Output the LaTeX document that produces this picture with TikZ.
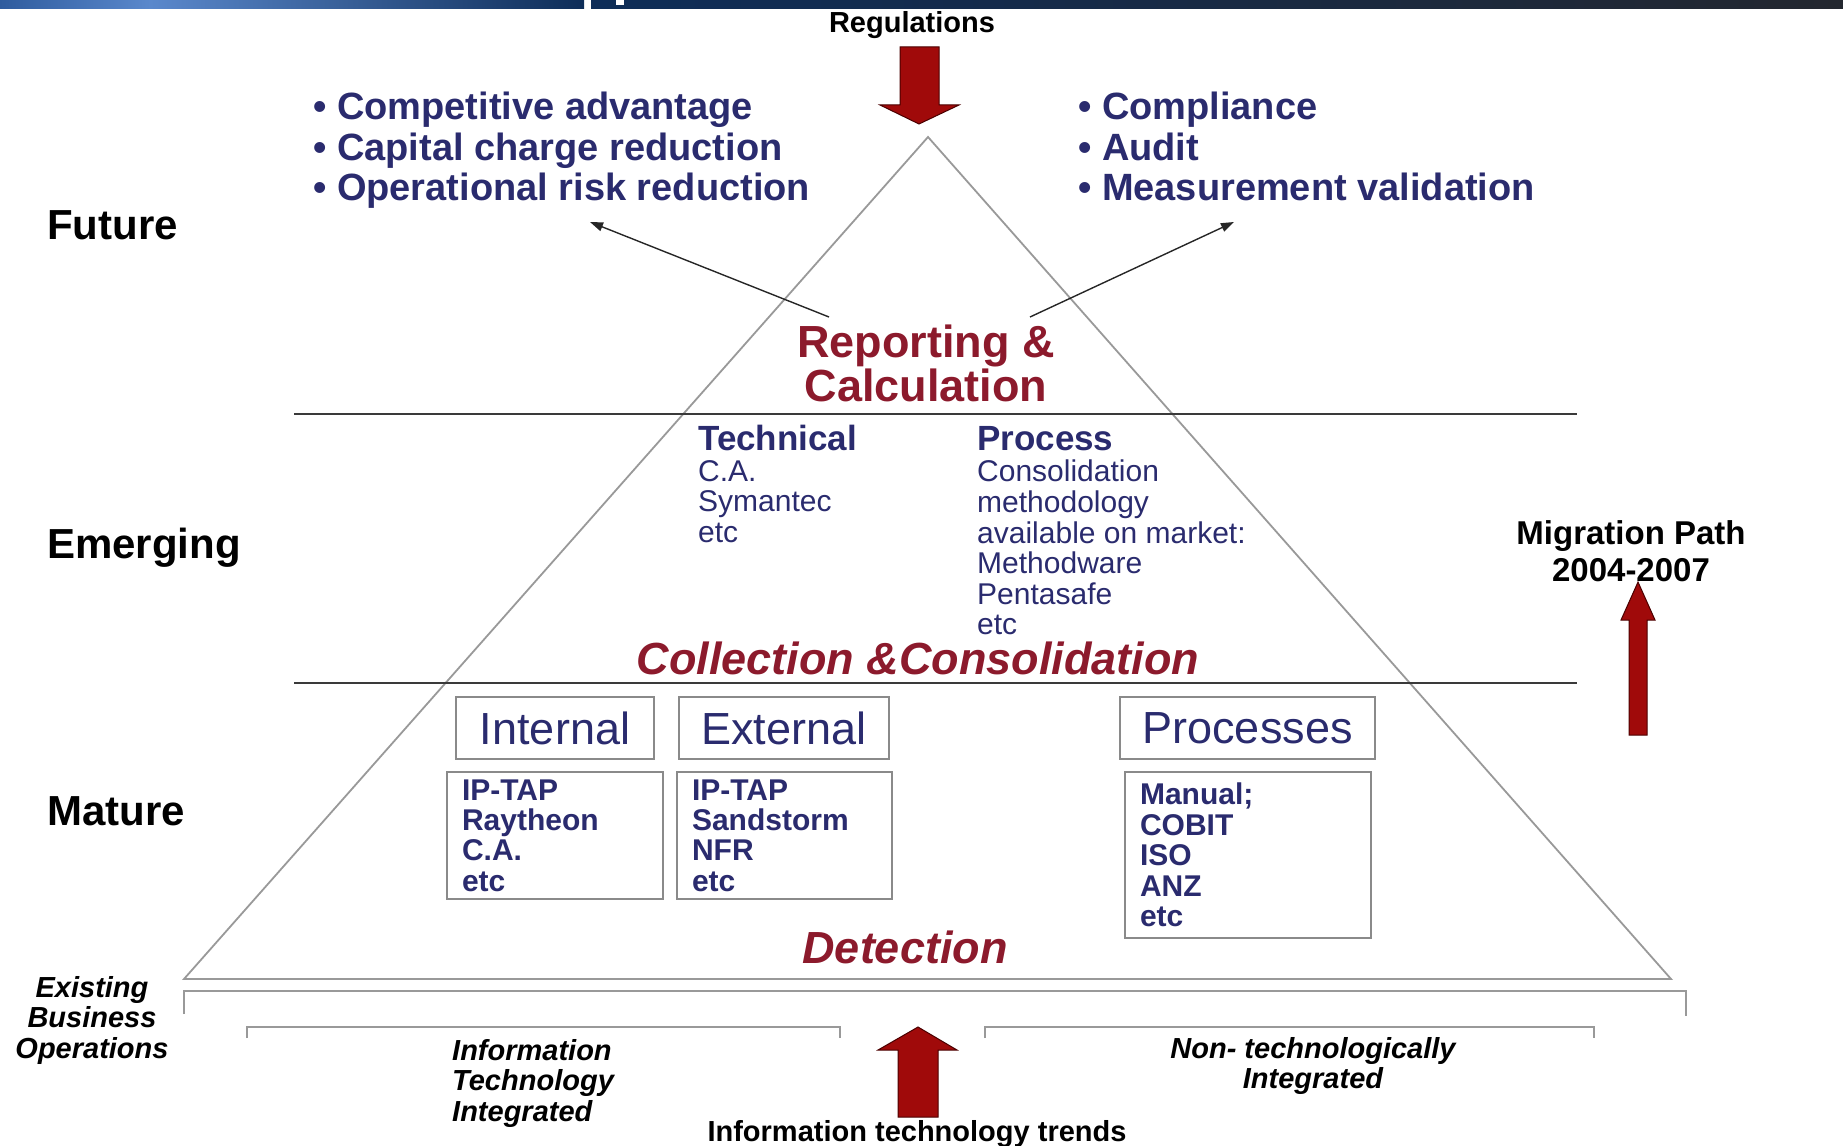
\documentclass[tikz,border=0pt]{standalone}
\usepackage{fontspec}
\setmainfont{Liberation Sans}
\usetikzlibrary{arrows.meta}
\definecolor{navytxt}{HTML}{2A2B6E}
\definecolor{maroontxt}{HTML}{8C1A2C}
\definecolor{redarrow}{HTML}{A00A0A}
\definecolor{rededge}{HTML}{4A0000}
\definecolor{barlight}{HTML}{5A88CC}
\definecolor{barmid}{HTML}{2F5C9E}
\definecolor{barnavy}{HTML}{0E2D58}
\definecolor{bardark}{HTML}{23272F}
\definecolor{linegray}{HTML}{999999}
\definecolor{boxgray}{HTML}{8A8A8A}
\definecolor{divgray}{HTML}{3A3A3A}
\newcommand{\fsz}[2]{\fontsize{#1}{#2}\selectfont}
\begin{document}
\begin{tikzpicture}[x=1pt,y=-1pt,
  lvl/.style={inner sep=0pt, anchor=base west, text=black, font=\fsz{42}{48}\bfseries},
  bul/.style={inner sep=0pt, anchor=north west, align=left, text=navytxt, font=\fsz{38}{40.6}\bfseries},
  ttl/.style={inner sep=0pt, text=maroontxt, font=\fsz{45}{44}\bfseries},
  ttli/.style={inner sep=0pt, text=maroontxt, font=\fsz{45}{44}\bfseries\itshape},
  hdr/.style={inner sep=0pt, anchor=base west, text=navytxt, font=\fsz{35}{36}\bfseries},
  itm/.style={inner sep=0pt, anchor=north west, align=left, text=navytxt, font=\fsz{30}{30.6}},
  hbox/.style={draw=boxgray, line width=1.5pt, text=navytxt, font=\fsz{45}{45}, minimum width=198pt, minimum height=62pt, inner sep=0pt},
  lbox/.style={draw=boxgray, line width=1.5pt, text=navytxt, font=\fsz{30}{30.4}\bfseries, align=left, inner xsep=15pt, inner ysep=0pt},
  blk/.style={inner sep=0pt, text=black, font=\fsz{29}{30.5}\bfseries},
  blki/.style={inner sep=0pt, text=black, font=\fsz{29}{30.5}\bfseries\itshape},
  pyr/.style={draw=linegray, line width=1.8pt},
  divl/.style={draw=divgray, line width=2pt},
  brk/.style={draw=linegray, line width=1.8pt},
  thin arrow/.style={draw=black!85, line width=1.4pt, -{Triangle[length=13pt,width=9pt]}},
  bigarrow/.style={fill=redarrow, draw=rededge, line width=1pt}
]
\useasboundingbox (0,0) rectangle (1843,1145);
% top bar
\shade[left color=barmid, right color=barlight] (0,0) rectangle (150,9);
\shade[left color=barlight, right color=barnavy] (150,0) rectangle (584,9);
\shade[left color=barnavy, right color=bardark] (591,0) rectangle (1843,9);
\fill[white] (616,0) rectangle (624,5);

% pyramid
\coordinate (apex) at (928,137);
\coordinate (bl) at (184,979);
\coordinate (br) at (1671,979);
\draw[pyr] (bl) -- (apex) -- (br) -- cycle;

% dividers
\draw[divl] (294,414) -- (1577,414);
\draw[divl] (294,683) -- (1577,683);

% brackets
\draw[brk] (184,1014) -- (184,991) -- (1686,991) -- (1686,1016);
\draw[brk] (247,1038) -- (247,1027) -- (840,1027) -- (840,1038);
\draw[brk] (985,1038) -- (985,1027) -- (1594,1027) -- (1594,1038);

% level labels
\node[lvl] (future) at (47,239) {Future};
\node[lvl] (emerging) at (47,558) {Emerging};
\node[lvl] (mature) at (47,825) {Mature};

% regulations
\node[blk, anchor=base] (regs) at (912,33) {Regulations};
\fill[bigarrow] (900,47) -- (939,47) -- (939,105) -- (959,105) -- (919,124) -- (880,105) -- (900,105) -- cycle;

% bullets
\node[bul] (leftb) at (313,92) {• Competitive advantage\\• Capital charge reduction\\• Operational risk reduction};
\node[bul] (rightb) at (1078,92) {• Compliance\\• Audit\\• Measurement validation};

% reporting
\node[ttl, anchor=north, align=center] (report) at (926,325) {Reporting \&\\Calculation};
\coordinate (lstart) at (829,317);
\coordinate (lend) at (590,222);
\coordinate (rstart) at (1030,317);
\coordinate (rend) at (1234,222);
\draw[thin arrow] (lstart) -- (lend);
\draw[thin arrow] (rstart) -- (rend);

% emerging block
\node[hdr] (tech) at (698,450.6) {Technical};
\node[itm] (techi) at (698,460) {C.A.\\Symantec\\etc};
\node[hdr] (proc) at (977,450.6) {Process};
\node[itm] (proci) at (977,460) {Consolidation\\methodology\\available on market:\\Methodware\\Pentasafe\\etc};
\node[ttli, anchor=base] (collect) at (918,674) {Collection \&Consolidation};

% mature block
\node[hbox] (inth) at (555,728) {Internal};
\node[hbox, minimum width=210pt] (exth) at (784,728) {External};
\node[hbox, minimum width=255pt] (proh) at (1247.5,728) {Processes};
\node[lbox, text width=186pt, minimum height=127pt] (intl) at (555,835.5) {IP-TAP\\Raytheon\\C.A.\\etc};
\node[lbox, text width=185pt, minimum height=127pt] (extl) at (784.5,835.5) {IP-TAP\\Sandstorm\\NFR\\etc};
\node[lbox, text width=216pt, minimum height=166pt] (prol) at (1248,855) {Manual;\\COBIT\\ISO\\ANZ\\etc};
\node[ttli, anchor=base] (detect) at (905,963) {Detection};

% migration path
\node[inner sep=0pt, anchor=north, align=center, text=black, font=\fsz{33}{37}\bfseries] (migr) at (1631,520) {Migration Path\\2004-2007};
\fill[bigarrow] (1629,735) -- (1647,735) -- (1647,620) -- (1655,620) -- (1638,582) -- (1621,620) -- (1629,620) -- cycle;

% bottom
\node[blki, anchor=north, align=center] (exist) at (92,976) {Existing\\Business\\Operations};
\node[blki, anchor=north west, align=left] (itint) at (452,1039) {Information\\Technology\\Integrated};
\node[blki, anchor=north, align=center] (nonint) at (1313,1037) {Non- technologically\\Integrated};
\fill[bigarrow] (898,1117) -- (938,1117) -- (938,1050) -- (957,1050) -- (918,1027) -- (878,1050) -- (898,1050) -- cycle;
\node[blk, anchor=base] (ittrends) at (917,1141) {Information technology trends};
\end{tikzpicture}
\end{document}
